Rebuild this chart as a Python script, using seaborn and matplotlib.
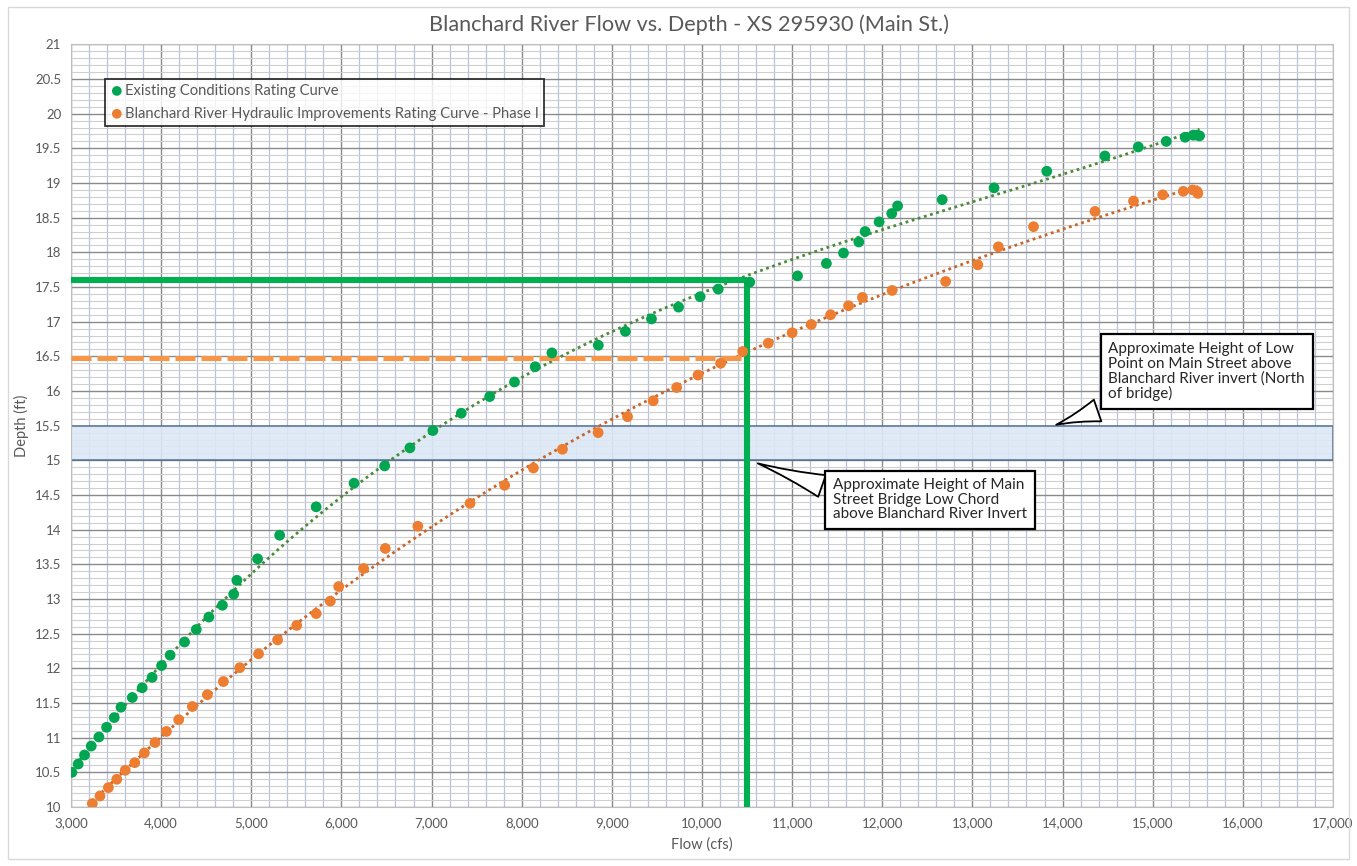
import numpy as np
import pandas as pd
import matplotlib.pyplot as plt
import seaborn as sns
from matplotlib.ticker import MultipleLocator, FuncFormatter
from matplotlib.patches import Rectangle

# existing conditions rating curve (flow cfs, depth ft)
existing_flow = [3010, 3080, 3150, 3225, 3310, 3395, 3480, 3555, 3680, 3790,
                 3900, 4005, 4100, 4260, 4390, 4530, 4680, 4805, 4840, 5070,
                 5315, 5720, 6140, 6480, 6760, 7015, 7330, 7645, 7920, 8150,
                 8335, 8850, 9150, 9440, 9740, 9980, 10180, 10530, 11060, 11380,
                 11570, 11740, 11810, 11965, 12105, 12170, 12665, 13240, 13825, 14470,
                 14840, 15150, 15360, 15450, 15490, 15520]
existing_depth = [10.50, 10.62, 10.75, 10.88, 11.01, 11.15, 11.29, 11.44, 11.58, 11.72,
                  11.87, 12.04, 12.19, 12.38, 12.56, 12.74, 12.91, 13.07, 13.27, 13.58,
                  13.92, 14.33, 14.67, 14.92, 15.18, 15.43, 15.68, 15.92, 16.13, 16.35,
                  16.55, 16.66, 16.86, 17.04, 17.21, 17.36, 17.47, 17.57, 17.66, 17.84,
                  17.99, 18.15, 18.30, 18.44, 18.56, 18.67, 18.76, 18.93, 19.17, 19.39,
                  19.52, 19.60, 19.66, 19.69, 19.69, 19.68]

# improvements (phase I) rating curve
improved_flow = [3237, 3322, 3415, 3508, 3602, 3708, 3814, 3932, 4059, 4195,
                 4347, 4513, 4691, 4873, 5081, 5292, 5504, 5720, 5877, 5970,
                 6246, 6487, 6848, 7427, 7811, 8130, 8452, 8848, 9174, 9459,
                 9719, 9956, 10207, 10452, 10735, 11000, 11213, 11427, 11626, 11780,
                 12109, 12703, 13060, 13288, 13678, 14360, 14787, 15111, 15339, 15445,
                 15492, 15501]
improved_depth = [10.05, 10.16, 10.28, 10.40, 10.53, 10.64, 10.78, 10.93, 11.09, 11.26,
                  11.45, 11.62, 11.81, 12.01, 12.21, 12.41, 12.62, 12.79, 12.97, 13.18,
                  13.44, 13.73, 14.05, 14.38, 14.64, 14.89, 15.16, 15.40, 15.63, 15.86,
                  16.05, 16.23, 16.40, 16.57, 16.69, 16.84, 16.96, 17.10, 17.23, 17.35,
                  17.45, 17.58, 17.82, 18.08, 18.37, 18.59, 18.74, 18.83, 18.88, 18.90,
                  18.88, 18.85]

# reference levels
bridge_flow = 10500
existing_level = 17.6
improved_level = 16.47
low_point = (15.0, 15.5)

existing = pd.DataFrame({'Flow': existing_flow, 'Depth': existing_depth})
improved = pd.DataFrame({'Flow': improved_flow, 'Depth': improved_depth})

sns.set_theme(style='white')
plt.rcParams['font.family'] = ['Lato', 'DejaVu Sans']

GREEN = '#00a651'
ORANGE = '#ed7d31'
text_gray = '#595959'

fig = plt.figure(figsize=(13.57, 8.66), dpi=100)
ax = fig.add_axes([0.0523, 0.0681, 0.930, 0.8807])
fig.patches.append(Rectangle((0.006, 0.008), 0.988, 0.984, transform=fig.transFigure,
                             fill=False, ec='#d9d9d9', lw=1))

# low point band
ax.axhspan(low_point[0], low_point[1], fc='#dce8f6', ec='#4f6f95', lw=1.2, zorder=1.5, alpha=0.9)

# trendlines
sns.regplot(data=existing, x='Flow', y='Depth', order=3, ci=None, scatter=False, ax=ax,
            line_kws=dict(color='#4e8a3a', lw=2.0, ls=(0, (1, 1.3)), zorder=3))
sns.regplot(data=improved, x='Flow', y='Depth', order=3, ci=None, scatter=False, ax=ax,
            line_kws=dict(color='#c8652b', lw=2.0, ls=(0, (1, 1.3)), zorder=3))

# reference lines
ax.plot([3000, bridge_flow], [existing_level, existing_level], color='#00b050', lw=4.4,
        solid_capstyle='butt', zorder=4)
ax.plot([bridge_flow, bridge_flow], [10, existing_level], color='#00b050', lw=4.4,
        solid_capstyle='butt', zorder=4)
ax.plot([3000, bridge_flow], [improved_level, improved_level], color='#f79646', lw=3.6,
        ls=(0, (4, 1.2)), zorder=4)

# points
sns.scatterplot(data=existing, x='Flow', y='Depth', color=GREEN, s=60, edgecolor='none',
                ax=ax, zorder=5, label='Existing Conditions Rating Curve')
sns.scatterplot(data=improved, x='Flow', y='Depth', color=ORANGE, s=60, edgecolor='none',
                ax=ax, zorder=5,
                label='Blanchard River Hydraulic Improvements Rating Curve - Phase I')

ax.set_xlim(3000, 17000)
ax.set_ylim(10, 21)
ax.xaxis.set_major_locator(MultipleLocator(1000))
ax.xaxis.set_minor_locator(MultipleLocator(200))
ax.yaxis.set_major_locator(MultipleLocator(0.5))
ax.yaxis.set_minor_locator(MultipleLocator(0.1))
ax.xaxis.set_major_formatter(FuncFormatter(lambda v, p: f'{v:,.0f}'))
ax.yaxis.set_major_formatter(FuncFormatter(lambda v, p: f'{v:g}'))
ax.grid(which='minor', axis='x', color='#b9c1dc', lw=0.9)
ax.grid(which='minor', axis='y', color='#cfcfcf', lw=0.8)
ax.grid(which='major', color='#8a8a8a', lw=1.0)
ax.set_axisbelow(True)
ax.tick_params(which='both', length=0, labelsize=9.5, labelcolor=text_gray, pad=7)
for s in ax.spines.values():
    s.set_color('#bfbfbf')
    s.set_linewidth(0.8)

ax.set_xlabel('Flow (cfs)', fontsize=10.5, color=text_gray, labelpad=6)
ax.set_ylabel('Depth (ft)', fontsize=10.5, color=text_gray, labelpad=4)
fig.text(0.508, 0.972, 'Blanchard River Flow vs. Depth - XS 295930 (Main St.)', fontsize=15.6,
         color=text_gray, ha='center', va='center')

leg = ax.legend(loc='upper left', bbox_to_anchor=(0.027, 0.955), fontsize=10.6,
                frameon=True, fancybox=False, handletextpad=0.1, handlelength=0.9,
                borderpad=0.35, labelspacing=0.6, markerscale=0.9, borderaxespad=0)
leg.get_frame().set_edgecolor('black')
leg.get_frame().set_linewidth(1.3)
for t in leg.get_texts():
    t.set_color(text_gray)

callout = dict(boxstyle='square,pad=0.5', fc='white', ec='black', lw=1.6)
ax.annotate('Approximate Height of Low\nPoint on Main Street above\nBlanchard River invert (North\nof bridge)',
            xy=(13900, 15.5), xytext=(15600, 16.28), ha='center', va='center',
            fontsize=11, color='#262626', multialignment='left', linespacing=1.05,
            bbox=callout, zorder=6,
            arrowprops=dict(arrowstyle='wedge,tail_width=1.5,shrink_factor=0.4', fc='white',
                            ec='black', lw=1.3, relpos=(0.1, 0.02)))
ax.annotate('Approximate Height of Main\nStreet Bridge Low Chord\nabove Blanchard River Invert',
            xy=(10590, 14.97), xytext=(12530, 14.43), ha='center', va='center',
            fontsize=11, color='#262626', multialignment='left', linespacing=1.05,
            bbox=callout, zorder=6,
            arrowprops=dict(arrowstyle='wedge,tail_width=1.5,shrink_factor=0.4', fc='white',
                            ec='black', lw=1.3, relpos=(0.02, 0.7)))

fig.savefig('out.png', dpi=100)
